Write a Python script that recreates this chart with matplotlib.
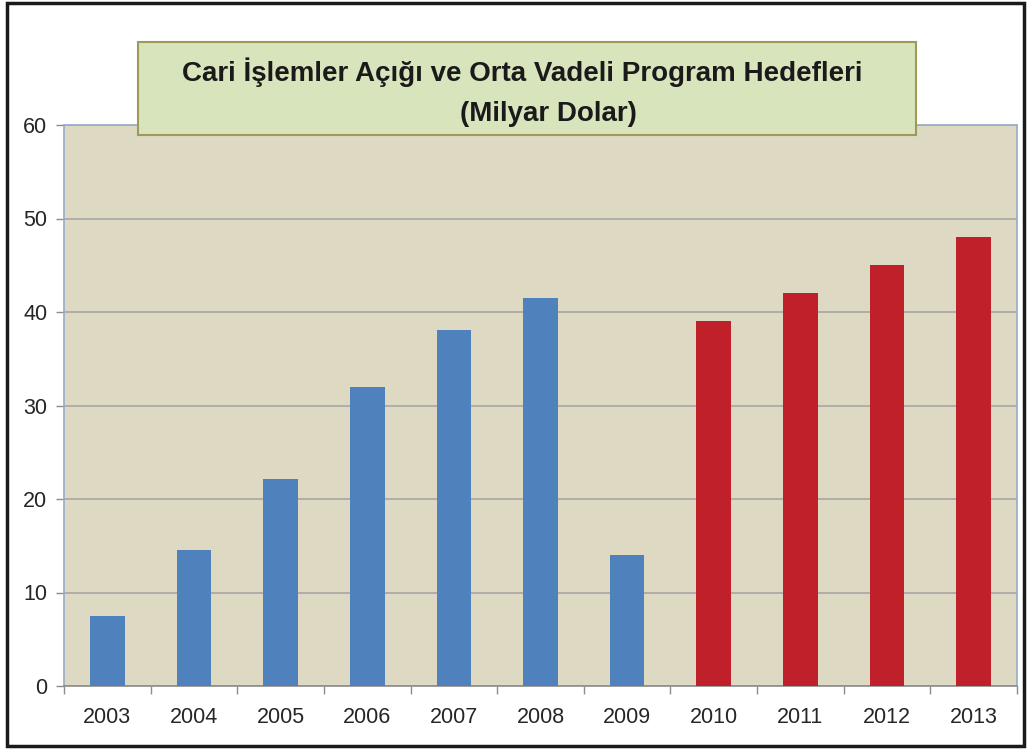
import matplotlib
matplotlib.use("Agg")
import matplotlib.pyplot as plt
from matplotlib.patches import Rectangle

plt.rcParams['font.family'] = ['Liberation Sans', 'DejaVu Sans']

years = ["2003", "2004", "2005", "2006", "2007", "2008", "2009",
         "2010", "2011", "2012", "2013"]
values = [7.5, 14.5, 22.1, 32.0, 38.1, 41.5, 14.0, 39.0, 42.0, 45.0, 48.0]
is_target = [False] * 7 + [True] * 4

blue = "#4f81bd"
red = "#c0202a"

W, H = 1027, 749
fig = plt.figure(figsize=(W / 100, H / 100), dpi=100)
ax = fig.add_axes([64 / W, 1 - 686 / H, (1017 - 64) / W, (686 - 125) / H])
ax.set_facecolor("#ddd9c3")

x = list(range(len(years)))
colors = [red if t else blue for t in is_target]
ax.bar(x, values, width=0.4, color=colors, zorder=3)

ax.set_xlim(-0.5, len(years) - 0.5)
ax.set_ylim(0, 60)
ax.set_yticks(range(0, 61, 10))
ax.yaxis.grid(True, color="#a6a6a6", linewidth=1.2, zorder=1)
ax.set_xticks(x)
ax.set_xticklabels(years)
ax.set_xticks([i - 0.5 for i in range(len(years) + 1)], minor=True)
ax.tick_params(axis="x", which="major", length=0, pad=15, labelsize=15.5, labelcolor="#262626")
ax.tick_params(axis="x", which="minor", length=6, color="#8c8c8c", width=1)
ax.tick_params(axis="y", length=6, color="#8c8c8c", width=1, labelsize=15.5,
               labelcolor="#262626", pad=6)
for side in ["left", "right", "top"]:
    ax.spines[side].set_color("#95acc9")
    ax.spines[side].set_linewidth(1.2)
ax.spines["bottom"].set_color("#8c8c8c")
ax.spines["bottom"].set_linewidth(1.2)

# outer frame
fig.patches.append(Rectangle((7 / W, 1 - 746 / H), (1024 - 7) / W, (746 - 3) / H,
                             transform=fig.transFigure, fill=False,
                             edgecolor="#1a1a1a", linewidth=2.5))

# title box
fig.patches.append(Rectangle((138 / W, 1 - 135 / H), (916 - 138) / W, (135 - 42) / H,
                             transform=fig.transFigure, facecolor="#d8e4bc",
                             edgecolor="#a09a5a", linewidth=1.5, zorder=5))
fig.text(522 / W, 1 - 72 / H, "Cari İşlemler Açığı ve Orta Vadeli Program Hedefleri",
         ha="center", va="center", fontsize=20, fontweight="bold",
         color="#1a1a1a", zorder=6)
fig.text(548 / W, 1 - 114 / H, "(Milyar Dolar)", ha="center", va="center",
         fontsize=20, fontweight="bold", color="#1a1a1a", zorder=6)

fig.savefig("out.png", dpi=100)
